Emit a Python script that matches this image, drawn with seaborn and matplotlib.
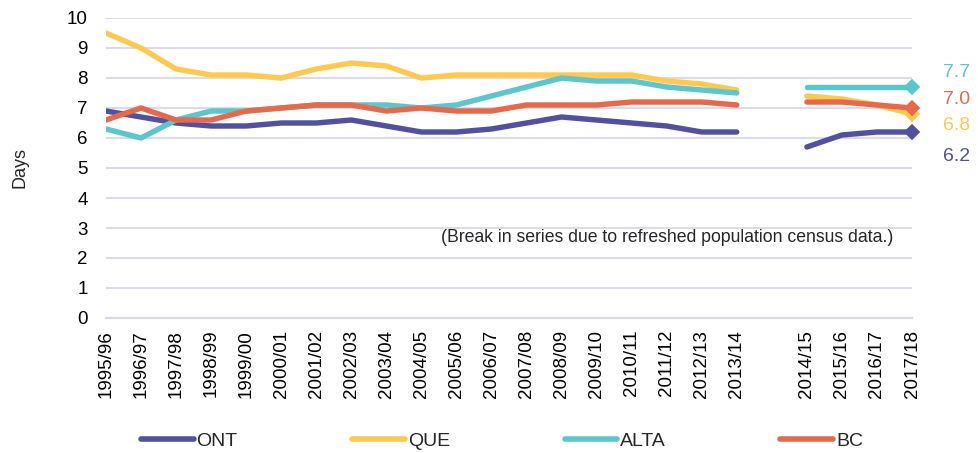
import numpy as np
import pandas as pd
import matplotlib
matplotlib.use("Agg")
import matplotlib.pyplot as plt
import seaborn as sns
from matplotlib.lines import Line2D

years = ["1995/96", "1996/97", "1997/98", "1998/99", "1999/00", "2000/01", "2001/02",
         "2002/03", "2003/04", "2004/05", "2005/06", "2006/07", "2007/08", "2008/09",
         "2009/10", "2010/11", "2011/12", "2012/13", "2013/14", "",
         "2014/15", "2015/16", "2016/17", "2017/18"]
segment = [0] * 19 + [None] + [1] * 4

ont = [6.9, 6.7, 6.5, 6.4, 6.4, 6.5, 6.5, 6.6, 6.4, 6.2, 6.2, 6.3, 6.5, 6.7, 6.6, 6.5, 6.4, 6.2, 6.2,
       np.nan, 5.7, 6.1, 6.2, 6.2]
que = [9.5, 9.0, 8.3, 8.1, 8.1, 8.0, 8.3, 8.5, 8.4, 8.0, 8.1, 8.1, 8.1, 8.1, 8.1, 8.1, 7.9, 7.8, 7.6,
       np.nan, 7.4, 7.3, 7.1, 6.8]
alta = [6.3, 6.0, 6.6, 6.9, 6.9, 7.0, 7.1, 7.1, 7.1, 7.0, 7.1, 7.4, 7.7, 8.0, 7.9, 7.9, 7.7, 7.6, 7.5,
        np.nan, 7.7, 7.7, 7.7, 7.7]
bc = [6.6, 7.0, 6.6, 6.6, 6.9, 7.0, 7.1, 7.1, 6.9, 7.0, 6.9, 6.9, 7.1, 7.1, 7.1, 7.2, 7.2, 7.2, 7.1,
      np.nan, 7.2, 7.2, 7.1, 7.0]

regions = ["ONT", "QUE", "ALTA", "BC"]
series = {"ONT": ont, "QUE": que, "ALTA": alta, "BC": bc}
colors = {"ONT": "#5150A1", "QUE": "#FFC94F", "ALTA": "#5BC6CE", "BC": "#E8694A"}
note = "(Break in series due to refreshed population census data.)"

# layout for end labels (label text y positions, in data units)
end_label_y = {"ALTA": 8.2, "BC": 7.3, "QUE": 6.4, "ONT": 5.37}

rows = []
for r in regions:
    for i, (yr, v, s) in enumerate(zip(years, series[r], segment)):
        if s is None or np.isnan(v):
            continue
        rows.append({"pos": i, "year": yr, "value": v, "region": r, "seg": f"{r}-{s}"})
df = pd.DataFrame(rows)

sns.set_theme(style="white")
plt.rcParams["font.family"] = ["Liberation Sans", "DejaVu Sans"]

fig = plt.figure(figsize=(9.79, 4.53), dpi=100)
ax = fig.add_axes([106 / 979, 1 - 318 / 453, 806 / 979, 300 / 453])

sns.lineplot(data=df, x="pos", y="value", hue="region", units="seg", estimator=None,
             palette=colors, hue_order=regions, linewidth=3.9, ax=ax, legend=False,
             solid_capstyle="round", solid_joinstyle="round")

last = df[df["pos"] == len(years) - 1]
sns.scatterplot(data=last, x="pos", y="value", hue="region", palette=colors,
                hue_order=regions, marker="D", s=70, edgecolor="none", ax=ax,
                legend=False, zorder=5, clip_on=False)

for r in regions:
    v = series[r][-1]
    ax.text(len(years) - 1 + 0.88, end_label_y[r], f"{v:.1f}", color=colors[r],
            fontsize=14, va="center", ha="left", clip_on=False)

ax.set_xlim(0, len(years) - 1)
ax.set_ylim(0, 10)
ax.set_yticks(range(0, 11))
ax.set_xticks(range(len(years)))
ax.set_xticklabels(years, rotation=90, fontsize=13.5)
ax.tick_params(axis="y", length=0, pad=13, labelsize=13.5, colors="black")
ax.tick_params(axis="x", direction="inout", length=9, width=1.5, color="#D9D8EA",
               pad=4, labelcolor="black")
ax.set_xlabel("")
ax.set_ylabel("Days", fontsize=13)
ax.yaxis.set_label_coords(-78 / 806, 0.5)

ax.grid(axis="y", color="#DCDBEC", linewidth=1.5)
ax.set_axisbelow(True)
for sp in ["top", "right", "left"]:
    ax.spines[sp].set_visible(False)
ax.spines["bottom"].set_color("#D9D8EA")
ax.spines["bottom"].set_linewidth(1.5)

ax.text(0.977, 0.27, note, transform=ax.transAxes, ha="right", va="center", fontsize=12.7)

handles = [Line2D([0], [0], color=colors[r], linewidth=4, solid_capstyle="round") for r in regions]
fig.legend(handles, regions, loc="center", bbox_to_anchor=(502 / 979, 1 - 441 / 453), ncol=4,
           frameon=False, fontsize=14, handlelength=2.7, handletextpad=0.15,
           columnspacing=5.9)

fig.savefig("out.png", dpi=100)
